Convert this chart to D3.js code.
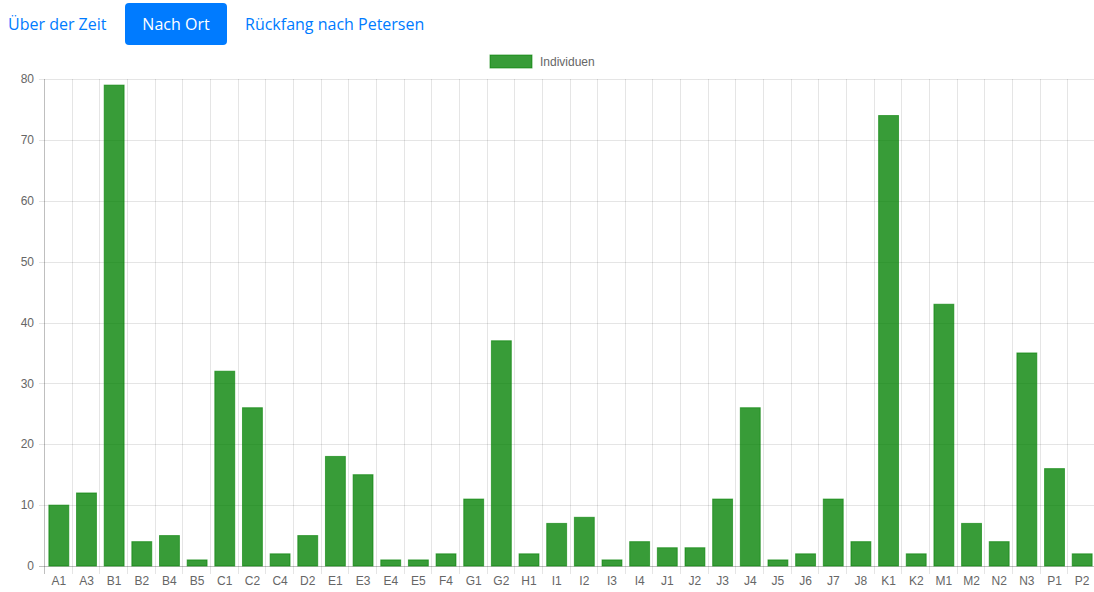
<!DOCTYPE html>
<html><head><meta charset="utf-8">
<script src="https://cdn.jsdelivr.net/npm/d3@7"></script>
<style>
body{margin:0;background:#fff;font-family:"Open Sans",Roboto,sans-serif;overflow:hidden;}
#nav{position:absolute;left:0;top:0;height:48px;}
.nav-link{position:absolute;top:3px;height:42px;line-height:42px;font-size:16px;color:#007bff;border-radius:4px;white-space:nowrap;}
.nav-link.active{background:#007bff;color:#fff;}
</style></head><body>
<div id="nav">
<span class="nav-link" style="left:8px">Über der Zeit</span>
<span class="nav-link active" style="left:125px;width:102px;text-align:center;">Nach Ort</span>
<span class="nav-link" style="left:245px">Rückfang nach Petersen</span>
</div>
<svg id="chart" width="1094" height="592" style="position:absolute;left:0;top:0"></svg>
<script>
const categories = ["A1","A3","B1","B2","B4","B5","C1","C2","C4","D2","E1","E3","E4","E5","F4","G1","G2","H1","I1","I2","I3","I4","J1","J2","J3","J4","J5","J6","J7","J8","K1","K2","M1","M2","N2","N3","P1","P2"];
const individuen = [10,12,79,4,5,1,32,26,2,5,18,15,1,1,2,11,37,2,7,8,1,4,3,3,11,26,1,2,11,4,74,2,43,7,4,35,16,2];
const yTicks = [0,10,20,30,40,50,60,70,80];
const seriesName = "Individuen";

const svg = d3.select("#chart");
const pLeft = 45, pRight = 1096, pTop = 79, pBottom = 566;
const x = d3.scaleBand().domain(categories).range([pLeft, pRight]);
const y = d3.scaleLinear().domain([0, 80]).range([pBottom, pTop]);
const grid = "rgba(0,0,0,0.1)";

// horizontal grid
svg.append("g").selectAll("line").data(yTicks).join("line")
  .attr("x1", pLeft - 6).attr("x2", pRight).attr("y1", d => Math.round(y(d)) + 0.5).attr("y2", d => Math.round(y(d)) + 0.5)
  .attr("stroke", d => d === 0 ? "rgba(0,0,0,0.25)" : grid);
// vertical grid
const bounds = categories.map(c => x(c)).concat([pRight]);
svg.append("g").selectAll("line").data(bounds).join("line")
  .attr("x1", d => Math.round(d) - 0.5).attr("x2", d => Math.round(d) - 0.5)
  .attr("y1", pTop).attr("y2", pBottom + 8)
  .attr("stroke", (d, i) => i === 0 ? "rgba(0,0,0,0.25)" : grid);

// y tick labels
svg.append("g").selectAll("text").data(yTicks).join("text")
  .attr("x", pLeft - 11).attr("y", d => y(d)).attr("dy", "0.35em")
  .attr("text-anchor", "end").attr("font-family", "Liberation Sans, Arial, sans-serif")
  .attr("font-size", 12).attr("fill", "#666").text(d => d);
// x tick labels
svg.append("g").selectAll("text").data(categories).join("text")
  .attr("x", d => x(d) + x.bandwidth() / 2).attr("y", pBottom + 19)
  .attr("text-anchor", "middle").attr("font-family", "Liberation Sans, Arial, sans-serif")
  .attr("font-size", 12).attr("fill", "#666").text(d => d);

// bars
const bw = x.bandwidth() * 0.72;
svg.append("g").selectAll("rect").data(individuen).join("rect")
  .attr("x", (d, i) => x(categories[i]) + (x.bandwidth() - bw) / 2)
  .attr("width", bw)
  .attr("y", d => y(d))
  .attr("height", d => pBottom - y(d))
  .attr("fill", "rgba(0,128,0,0.78)")
  .attr("stroke", "rgba(0,128,0,0.6)").attr("stroke-width", 1);

// legend
const lg = svg.append("g");
lg.append("rect").attr("x", 490).attr("y", 55).attr("width", 42).attr("height", 13)
  .attr("fill", "rgba(0,128,0,0.78)").attr("stroke", "rgba(0,128,0,0.6)");
lg.append("text").attr("x", 540).attr("y", 61.5).attr("dy", "0.35em")
  .attr("font-family", "Liberation Sans, Arial, sans-serif").attr("font-size", 12).attr("fill", "#666").text(seriesName);
</script>
</body></html>
